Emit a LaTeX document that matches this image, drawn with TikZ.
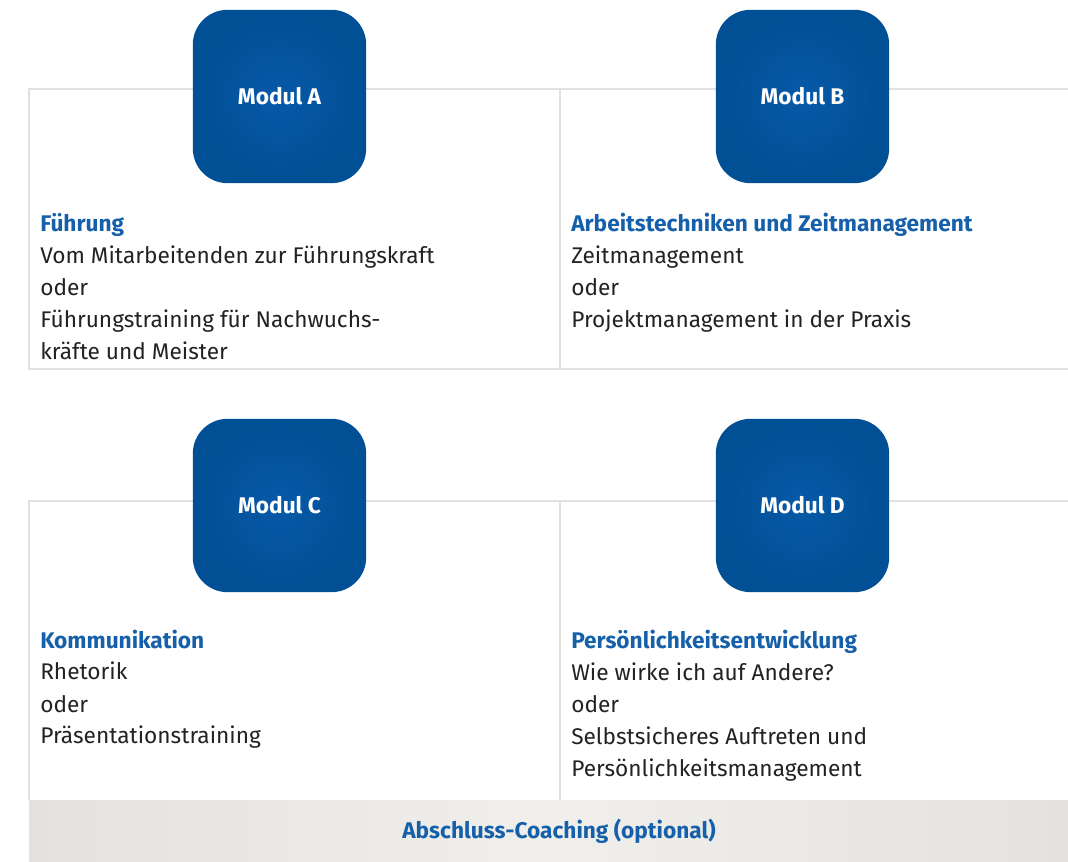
\documentclass[tikz,border=0pt]{standalone}
\usepackage{fontspec}
\setmainfont{Fira Sans}
\definecolor{modblue}{HTML}{0759A8}
\definecolor{modedge}{HTML}{014F94}
\definecolor{headblue}{HTML}{1660AA}
\definecolor{cellline}{HTML}{E2E1DD}
\definecolor{barside}{HTML}{E3E2DE}
\definecolor{barmid}{HTML}{F0EFEC}
\definecolor{bodytext}{HTML}{222222}
\begin{document}
\begin{tikzpicture}[x=0.75pt, y=-0.75pt,
    modbox/.style={shade, inner color=modblue, outer color=modedge, rounded corners=26pt,
        minimum width=130pt, minimum height=130pt, text=white, font=\fontsize{17}{20}\selectfont\bfseries},
    celltext/.style={anchor=base west, align=left, inner sep=0pt, text=bodytext,
        font=\fontsize{17}{24}\selectfont},
    cell/.style={draw=cellline, line width=0.9pt}]
    \useasboundingbox (0,0) rectangle (1068,862);
    % cell frames
    \draw[cell] (1068,89) -- (29,89) -- (29,369) -- (1068,369);
    \draw[cell] (560,89) -- (560,369);
    \draw[cell] (1068,501) -- (29,501) -- (29,800);
    \draw[cell] (560,501) -- (560,800);
    % final bar
    \shade[left color=barside, right color=barside, middle color=barmid] (29,800) rectangle (1068,862);
    \node[text=headblue, font=\fontsize{17}{20}\selectfont\bfseries] (coaching) at (559,831) {Abschluss-Coaching (optional)};
    % modules
    \node[modbox] (modA) at (279.5,96.5) {Modul A};
    \node[modbox] (modB) at (802.5,96.5) {Modul B};
    \node[modbox] (modC) at (279.5,505.5) {Modul C};
    \node[modbox] (modD) at (802.5,505.5) {Modul D};
    % texts (anchored at the last line)
    \node[celltext] (txtA) at (40,360) {{\bfseries\color{headblue}Führung}\\
        Vom Mitarbeitenden zur Führungskraft\\ oder\\ Führungstraining für Nachwuchs-\\ kräfte und Meister};
    \node[celltext] (txtB) at (571,328) {{\bfseries\color{headblue}Arbeitstechniken und Zeitmanagement}\\
        Zeitmanagement\\ oder\\ Projektmanagement in der Praxis};
    \node[celltext] (txtC) at (40,744) {{\bfseries\color{headblue}Kommunikation}\\
        Rhetorik\\ oder\\ Präsentationstraining};
    \node[celltext] (txtD) at (571,776) {{\bfseries\color{headblue}Persönlichkeitsentwicklung}\\
        Wie wirke ich auf Andere?\\ oder\\ Selbstsicheres Auftreten und\\ Persönlichkeitsmanagement};
\end{tikzpicture}
\end{document}
